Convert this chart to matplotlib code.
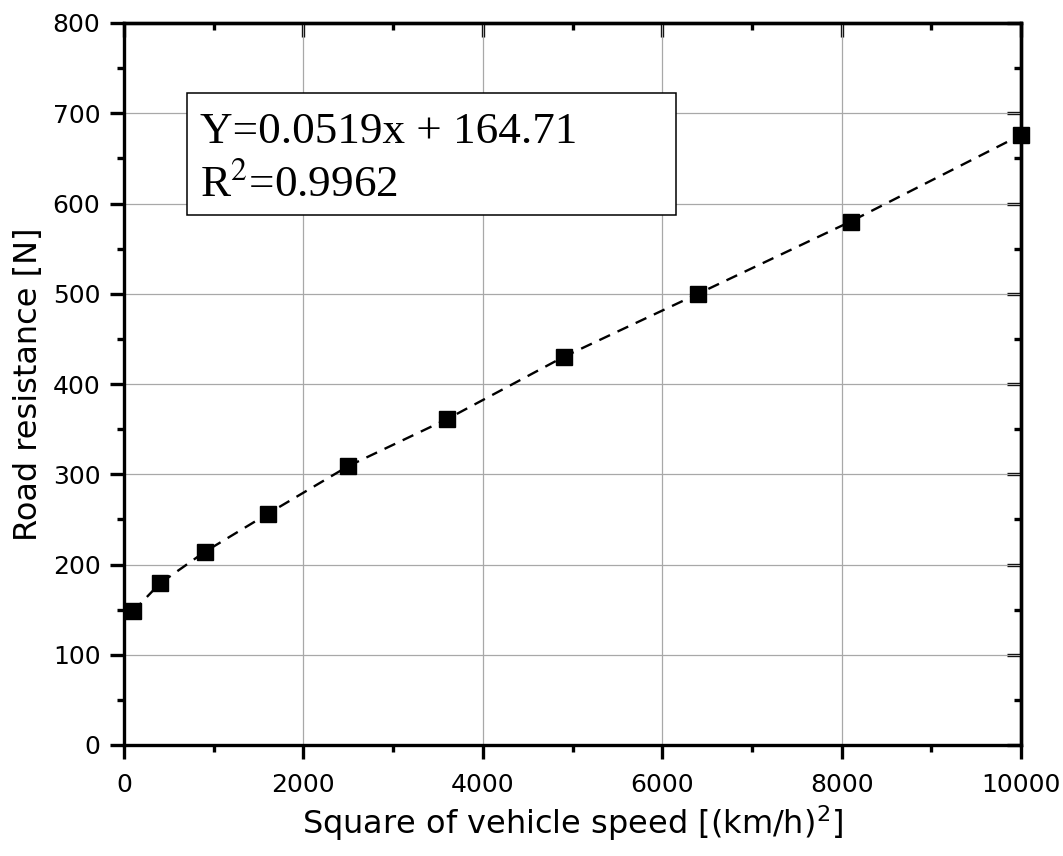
import matplotlib
matplotlib.use('Agg')
import matplotlib.pyplot as plt
from matplotlib.patches import Rectangle
from matplotlib.ticker import MultipleLocator

# speed squared [(km/h)^2] and measured road resistance [N]
speed_sq = [100, 400, 900, 1600, 2500, 3600, 4900, 6400, 8100, 10000]
resistance = [148, 179, 214, 256, 309, 361, 430, 500, 580, 676]

fit_lines = ['Y=0.0519x + 164.71', 'R$^2$=0.9962']

plt.rcParams['font.family'] = ['DejaVu Sans']

fig = plt.figure(figsize=(10.63, 8.56), dpi=100)
ax = fig.add_axes([124 / 1063, 1 - 745 / 856, (1021 - 124) / 1063, (745 - 23) / 856])

ax.plot(speed_sq, resistance, color='black', linestyle=(0, (5, 3.5)), linewidth=1.7,
        marker='s', markersize=11, clip_on=False, zorder=3)

ax.set_xlim(0, 10000)
ax.set_ylim(0, 800)
ax.xaxis.set_major_locator(MultipleLocator(2000))
ax.xaxis.set_minor_locator(MultipleLocator(1000))
ax.yaxis.set_major_locator(MultipleLocator(100))
ax.yaxis.set_minor_locator(MultipleLocator(50))

ax.grid(True, which='major', color='#a8a8a8', linewidth=0.9)
for s in ax.spines.values():
    s.set_linewidth(2.4)

# outward ticks on left/bottom, inward on right/top
ax.tick_params(which='both', direction='out', width=2.4, labelsize=18)
ax.tick_params(which='major', length=10)
ax.tick_params(which='minor', length=5)
ax.tick_params(axis='y', pad=7)
ax.tick_params(axis='x', pad=10)

axr = ax.secondary_yaxis('right')
axr.yaxis.set_major_locator(MultipleLocator(100))
axr.yaxis.set_minor_locator(MultipleLocator(50))
axr.tick_params(which='both', direction='in', width=2.4, labelright=False)
axr.tick_params(which='major', length=10)
axr.tick_params(which='minor', length=5)
axr.spines['right'].set_linewidth(2.4)

axt = ax.secondary_xaxis('top')
axt.xaxis.set_major_locator(MultipleLocator(2000))
axt.xaxis.set_minor_locator(MultipleLocator(1000))
axt.tick_params(which='both', direction='in', width=2.4, labeltop=False)
axt.tick_params(which='major', length=10)
axt.tick_params(which='minor', length=5)
axt.spines['top'].set_linewidth(2.4)

ax.set_xlabel('Square of vehicle speed [(km/h)$^2$]', fontsize=23, labelpad=5,
              math_fontfamily='dejavusans')
ax.set_ylabel('Road resistance [N]', fontsize=23, labelpad=6)

# regression box
ax.add_patch(Rectangle((0.0702, 0.734), 0.5452, 0.169, transform=ax.transAxes,
                       facecolor='white', edgecolor='black', linewidth=1.1, zorder=4))
ax.text(0.0847, 0.834, fit_lines[0], transform=ax.transAxes, fontsize=32.5,
        family='Liberation Serif', va='baseline', ha='left', zorder=5)
ax.text(0.0847, 0.759, fit_lines[1], transform=ax.transAxes, fontsize=32.5,
        family='Liberation Serif', math_fontfamily='stix', va='baseline', ha='left', zorder=5)

fig.savefig('out.png', dpi=100)
